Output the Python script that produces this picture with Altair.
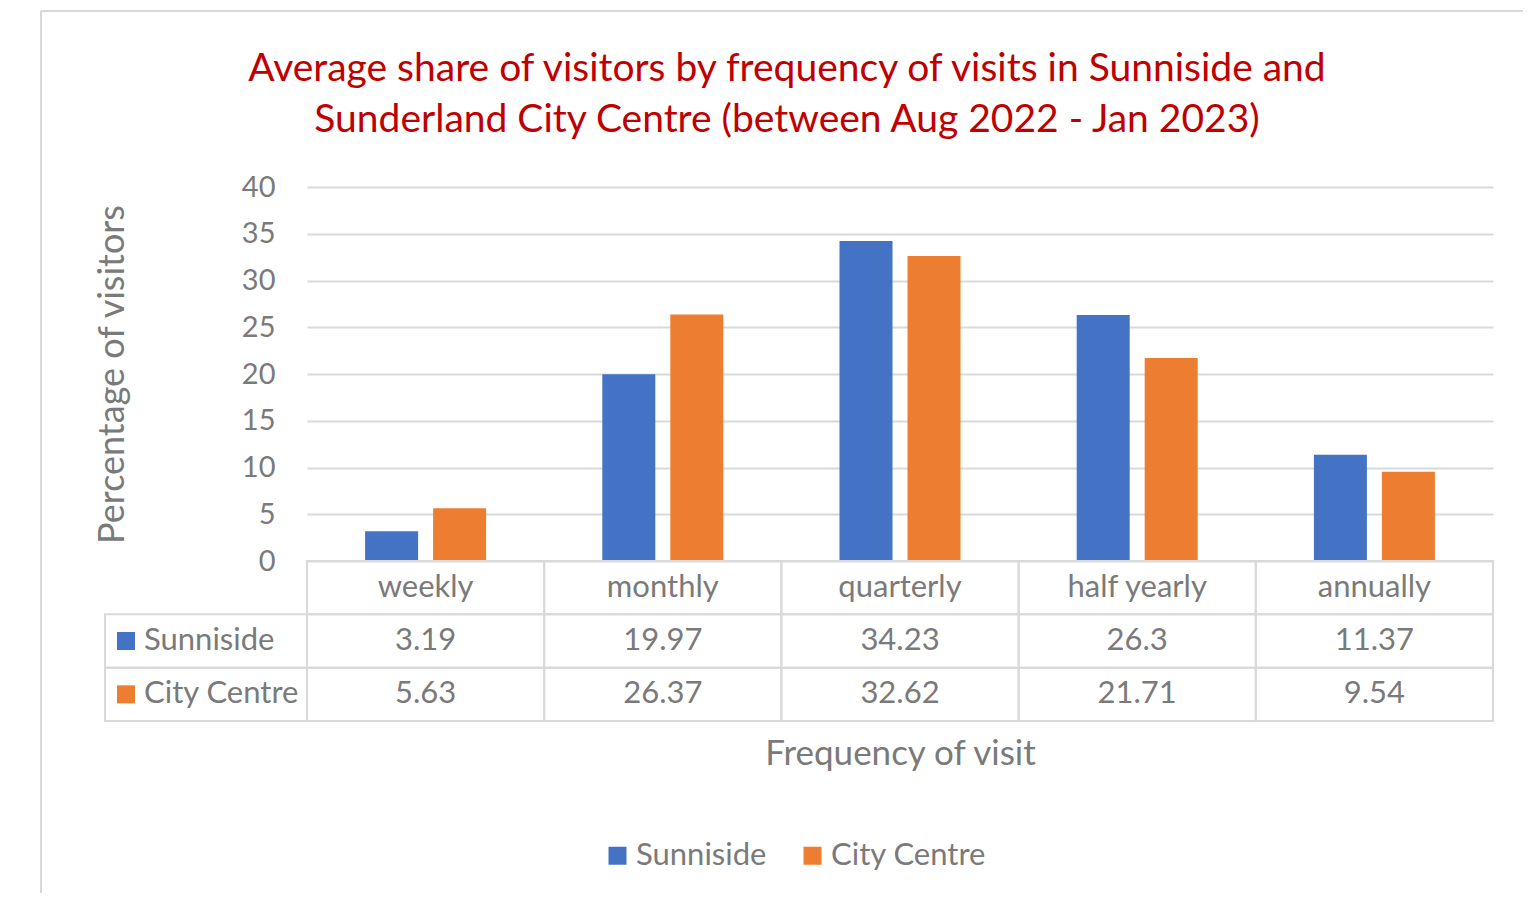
import altair as alt
import pandas as pd

categories = ["weekly", "monthly", "quarterly", "half yearly", "annually"]
series = ["Sunniside", "City Centre"]
sunniside = [3.19, 19.97, 34.23, 26.3, 11.37]
city_centre = [5.63, 26.37, 32.62, 21.71, 9.54]
y_ticks = [0, 5, 10, 15, 20, 25, 30, 35, 40]
colors = ["#4472C4", "#ED7D31"]
table_rows = ["header", "Sunniside", "City Centre"]
title_lines = [
    "Average share of visitors by frequency of visits in Sunniside and",
    "Sunderland City Centre (between Aug 2022 - Jan 2023)",
]

FONT = "Lato"
GRAY = "#7a7a7a"
LINE = "#d9d9d9"

rows = []
for s, vals in zip(series, [sunniside, city_centre]):
    for c, v in zip(categories, vals):
        rows.append({"category": c, "series": s, "value": v})
df = pd.DataFrame(rows)

cells = []
for c in categories:
    cells.append({"category": c, "row": "header", "label": c})
for s, vals in zip(series, [sunniside, city_centre]):
    for c, v in zip(categories, vals):
        cells.append({"category": c, "row": s, "label": f"{v:g}"})
cells_df = pd.DataFrame(cells)
labels_df = pd.DataFrame({"row": series, "series": series})
one = pd.DataFrame({"a": [0]})

x_enc = alt.X(
    "category:N",
    sort=categories,
    scale=alt.Scale(domain=categories, paddingInner=0, paddingOuter=0),
    axis=alt.Axis(
        title="Frequency of visit", labels=False, ticks=False, domain=False,
        grid=False, titleFontSize=35, titleColor=GRAY, titleFontWeight="normal",
        titlePadding=15, titleFont=FONT,
    ),
)
color_enc = alt.Color(
    "series:N",
    scale=alt.Scale(domain=series, range=colors),
    legend=alt.Legend(
        title=None, orient="none", direction="horizontal", legendX=295, legendY=653,
        symbolType="square", symbolSize=324, symbolStrokeWidth=0, symbolOpacity=1,
        labelFontSize=31, labelColor=GRAY, labelFont=FONT, labelOffset=3,
        columnPadding=30,
    ),
)
row_y = alt.Y(
    "row:N",
    scale=alt.Scale(domain=table_rows, range=[374, 534], paddingInner=0, paddingOuter=0),
    axis=None,
)

bars = alt.Chart(df).mark_bar().encode(
    x=x_enc,
    xOffset=alt.XOffset("series:N", sort=series,
                        scale=alt.Scale(domain=series, paddingInner=0.2206, paddingOuter=0.8545)),
    y=alt.Y(
        "value:Q",
        scale=alt.Scale(domain=[0, 40], range=[374, 0], nice=False),
        axis=alt.Axis(
            values=y_ticks, title="Percentage of visitors", grid=True, gridColor=LINE,
            gridWidth=2, domain=False, ticks=False, labelPadding=32, labelFontSize=29,
            labelColor=GRAY, labelFont=FONT, titleFontSize=36, titleColor=GRAY,
            titleFontWeight="normal", titleFont=FONT, titleAngle=270, titleX=-195,
            titleY=187, titleAlign="center", titleBaseline="middle",
        ),
    ),
    color=color_enc,
)

cell_rects = alt.Chart(cells_df).mark_rect(
    fillOpacity=0, stroke=LINE, strokeWidth=2
).encode(x=x_enc, y=row_y)

label_rects = alt.Chart(labels_df).mark_rect(
    fillOpacity=0, stroke=LINE, strokeWidth=2
).encode(x=alt.value(-202), x2=alt.value(0), y=row_y)

cell_text = alt.Chart(cells_df).mark_text(
    font=FONT, fontSize=31, color=GRAY, align="center", baseline="middle"
).encode(x=x_enc, y=row_y, text="label:N")

label_text = alt.Chart(labels_df).mark_text(
    font=FONT, fontSize=31, color=GRAY, align="left", baseline="middle"
).encode(x=alt.value(-163), y=row_y, text="series:N")

label_sq = alt.Chart(labels_df).mark_point(
    shape="square", filled=True, size=324, opacity=1
).encode(x=alt.value(-181), y=row_y, color=color_enc)

frame_left = alt.Chart(one).mark_rule(color=LINE, strokeWidth=2).encode(
    x=alt.value(-266), y=alt.value(-176), y2=alt.value(706)
)
frame_top = alt.Chart(one).mark_rule(color=LINE, strokeWidth=2).encode(
    x=alt.value(-266), x2=alt.value(1216), y=alt.value(-176)
)

title = alt.Chart(one).mark_text(
    font=FONT, fontSize=39, color="#C00000", align="center", baseline="middle",
    lineHeight=51,
).encode(x=alt.value(480), y=alt.value(-118), text=alt.value(title_lines))

chart = alt.layer(
    frame_left, frame_top, title, bars, cell_rects, label_rects,
    cell_text, label_text, label_sq,
).resolve_scale(y="independent").properties(
    width=1186, height=534,
    padding={"left": 32, "top": 2, "right": 0, "bottom": 0},
    background="white",
).configure_view(stroke=None)

chart.save("out.html", embed_options={"renderer": "svg", "actions": False})
